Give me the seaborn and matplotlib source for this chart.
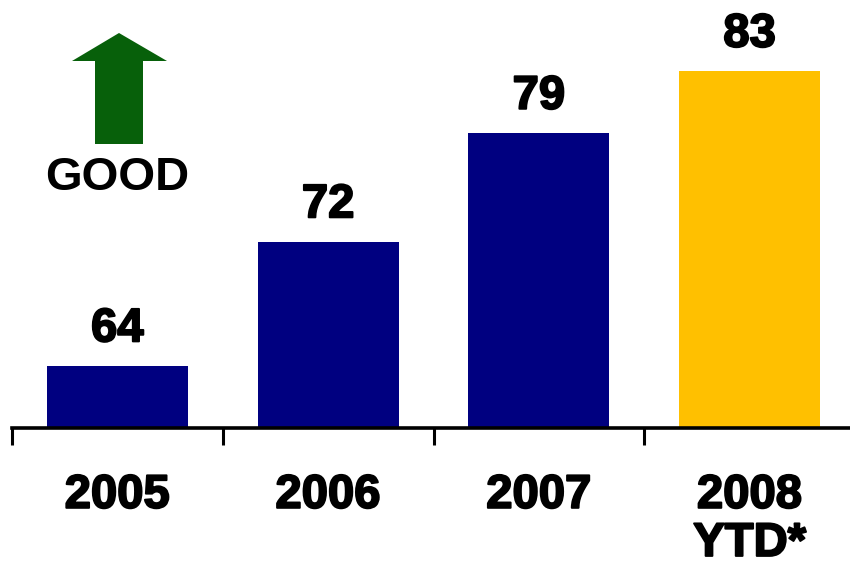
import matplotlib
matplotlib.use("Agg")
import matplotlib.pyplot as plt
import matplotlib.patheffects as pe
from matplotlib.patches import Polygon
import seaborn as sns
import pandas as pd

# ---- data ----
categories = ["2005", "2006", "2007", "2008\nYTD*"]
values = [64, 72, 79, 83]
bar_colors = ["#000080", "#000080", "#000080", "#FFC000"]
arrow_label = "GOOD"

sns.set_theme(style="white")
plt.rcParams['font.family'] = ['Liberation Sans', 'DejaVu Sans']
plt.rcParams['font.weight'] = 'bold'
plt.rcParams['text.color'] = 'black'
plt.rcParams['xtick.color'] = 'black'
plt.rcParams['xtick.labelcolor'] = 'black'

W, H = 850, 572
fig = plt.figure(figsize=(W / 100, H / 100), dpi=100)
fig.patch.set_facecolor("white")
ax = fig.add_axes([12 / W, (H - 428) / H, (855 - 12) / W, 428 / H])

df = pd.DataFrame({"cat": categories, "val": values})
sns.barplot(data=df, x="cat", y="val", color=bar_colors[0], width=0.668,
            linewidth=0, saturation=1, errorbar=None, ax=ax)
for p, col in zip(ax.patches, bar_colors):
    p.set_facecolor(col)

ax.set_ylim(60, 87.6)
ax.set_xlim(-0.5, 3.5)
ax.set_xlabel("")
ax.set_ylabel("")
ax.set_yticks([])
for s in ["top", "right", "left"]:
    ax.spines[s].set_visible(False)
ax.spines["bottom"].set_linewidth(2.6)
ax.spines["bottom"].set_color("black")
ax.set_facecolor("white")

stroke = [pe.withStroke(linewidth=1.4, foreground="black")]

# boundary ticks
ax.set_xticks([-0.5, 0.5, 1.5, 2.5, 3.5], minor=True)
ax.tick_params(axis="x", which="minor", direction="out", length=12,
               width=2.2, color="black", bottom=True)
ax.tick_params(axis="x", which="major", length=0, pad=33)
ax.set_xticks(range(len(categories)))
ax.set_xticklabels(categories, fontsize=34, fontweight="bold", color="black",
                   linespacing=1.12, path_effects=stroke)

ax.bar_label(ax.containers[0], labels=[str(v) for v in values], padding=10.5,
             fontsize=34, fontweight="bold", color="black", path_effects=stroke)

# "GOOD" arrow decoration (figure pixel coordinates -> fraction)
pts = [(119, 33), (167, 61), (143, 61), (143, 144), (95, 144), (95, 61), (72, 61)]
poly = Polygon([(x / W, 1 - y / H) for x, y in pts], closed=True,
               transform=fig.transFigure, facecolor="#07600A", edgecolor="none")
fig.patches.append(poly)
fig.text(117 / W, 1 - 190 / H, arrow_label, ha="center", va="baseline",
         fontsize=34, fontweight="bold", color="black")

fig.savefig("out.png", dpi=100, facecolor="white")
